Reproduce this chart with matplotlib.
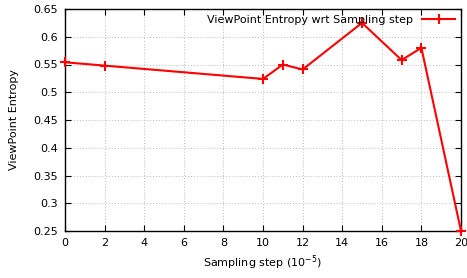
import matplotlib
matplotlib.use("Agg")
import matplotlib.pyplot as plt
from matplotlib.lines import Line2D

steps = [0, 2, 10, 11, 12, 15, 17, 18, 20]
entropy = [0.554, 0.548, 0.524, 0.550, 0.541, 0.625, 0.558, 0.580, 0.250]
xticks = [0, 2, 4, 6, 8, 10, 12, 14, 16, 18, 20]
yticks = [0.25, 0.3, 0.35, 0.4, 0.45, 0.5, 0.55, 0.6, 0.65]
ylabels = ["0.25", "0.3", "0.35", "0.4", "0.45", "0.5", "0.55", "0.6", "0.65"]

plt.rcParams['font.family'] = ['DejaVu Sans']
fig = plt.figure(figsize=(4.67, 2.78), dpi=100)
ax = fig.add_axes([65/467, 1-231/278, (461-65)/467, (231-9)/278])
ax.plot(steps, entropy, color='#ff0000', lw=1.5, marker='+', ms=7, mew=1.5, clip_on=False, zorder=3)
ax.set_xlim(0, 20)
ax.set_ylim(0.25, 0.65)
ax.set_xticks(xticks)
ax.set_yticks(yticks)
ax.set_yticklabels(ylabels)
ax.tick_params(direction='in', top=True, right=True, labelsize=8, length=4, pad=5)
ax.grid(True, linestyle=(0, (1, 2)), color='#bbbbbb', lw=0.7)
for s in ax.spines.values():
    s.set_linewidth(1.0)
ax.set_xlabel('Sampling step (10$^{-5}$)', fontsize=8, labelpad=4)
ax.set_ylabel('ViewPoint Entropy', fontsize=8, labelpad=10)
handle = Line2D([], [], color='#ff0000', lw=1.5, marker='+', ms=7, mew=1.5)
ax.legend([handle], ['ViewPoint Entropy wrt Sampling step'], loc='upper right', frameon=False,
          fontsize=8, markerfirst=False, handlelength=3, borderaxespad=0.1, handletextpad=0.8)
fig.savefig('out.png', dpi=100)
